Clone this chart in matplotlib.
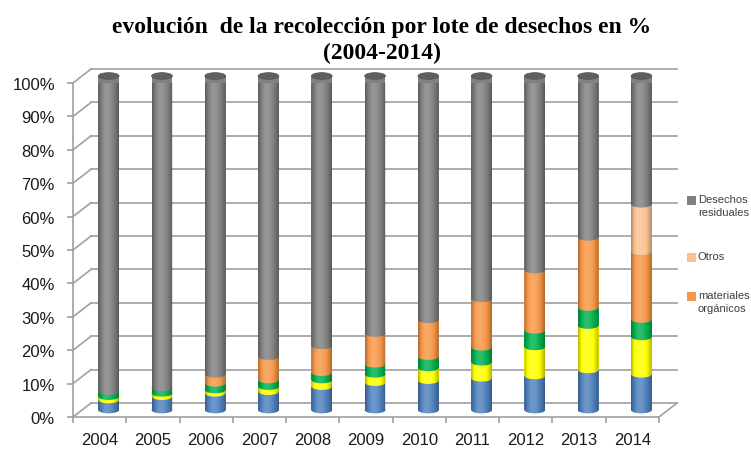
import numpy as np
import matplotlib
matplotlib.use("Agg")
from matplotlib import pyplot as plt
from matplotlib.patches import Polygon, Ellipse

# data (% of total per year)
years = ["2004", "2005", "2006", "2007", "2008", "2009", "2010", "2011", "2012", "2013", "2014"]
serie_azul = [3.0, 4.0, 5.0, 5.5, 7.0, 8.2, 8.8, 9.5, 10.2, 12.0, 10.7]
serie_amarilla = [1.0, 1.0, 1.0, 1.5, 2.0, 2.5, 3.8, 4.8, 8.7, 13.3, 11.2]
serie_verde = [1.5, 1.6, 2.0, 2.0, 2.2, 3.0, 3.4, 4.5, 5.0, 5.4, 5.2]
organicos = [0.0, 0.0, 2.7, 7.0, 8.0, 9.2, 11.0, 14.5, 18.0, 21.0, 20.3]
otros = [0.0, 0.0, 0.0, 0.0, 0.0, 0.0, 0.0, 0.0, 0.0, 0.0, 14.2]
residuales = [100 - a - b - c - d - e for a, b, c, d, e in
              zip(serie_azul, serie_amarilla, serie_verde, organicos, otros)]

series = [serie_azul, serie_amarilla, serie_verde, organicos, otros, residuales]
colors = ["#4f81bd", "#ffff00", "#00b050", "#f79646", "#fac090", "#808080"]

legend_names = ["Desechos\nresiduales", "Otros", "materiales\norgánicos"]
legend_colors = ["#808080", "#fac090", "#f79646"]

# 3d look: depth offset of back wall in data units
DX = 0.34
DY = 4.2
W = 0.39   # bar width
E = 1.0    # ellipse half height
grid_c = "#a0a0a0"

fig = plt.figure(figsize=(7.51, 4.52), dpi=100)
ax = fig.add_axes([73/751, 34/452, 586/751, 334/452])
ax.set_xlim(0, 11)
ax.set_ylim(0, 100)

# walls / gridlines
for v in range(0, 101, 10):
    ax.plot([0, DX], [v, v + DY], color=grid_c, lw=1.2, zorder=1, clip_on=False)
    ax.plot([DX, 11 + DX], [v + DY, v + DY], color=grid_c, lw=1.2, zorder=1, clip_on=False)
ax.plot([11, 11 + DX], [0, DY], color=grid_c, lw=1.2, zorder=1, clip_on=False)

# shading overlay for the cylinders
t = np.linspace(0, 1, 80)
b = np.where(t < 0.4, 1 - ((t - 0.4) / 0.4) ** 2, 1 - ((t - 0.4) / 0.6) ** 2)
shade = np.zeros((1, len(t), 4))
light = b > 0.7
shade[0, light, :3] = 1.0
shade[0, light, 3] = (b[light] - 0.7) * 0.6
shade[0, ~light, 3] = (0.7 - b[~light]) * 0.45

th_low = np.linspace(np.pi, 2 * np.pi, 40)
th_up = np.linspace(0, np.pi, 40)

for i in range(len(years)):
    cx = i + 0.5 + DX / 2
    base = DY / 2
    bottom = base
    top_total = base + sum(s[i] for s in series)
    for s, c in zip(series, colors):
        h = s[i]
        if h <= 0:
            continue
        ax.add_patch(plt.Rectangle((cx - W / 2, bottom), W, h, facecolor=c,
                                   edgecolor="none", zorder=3, clip_on=False))
        ax.add_patch(Ellipse((cx, bottom), W, 2 * E, facecolor=c,
                             edgecolor="none", zorder=3, clip_on=False))
        bottom += h
    # cylinder outline for clipping the shade
    pts = [(cx + W / 2 * np.cos(a), base + E * np.sin(a)) for a in th_low]
    pts += [(cx + W / 2 * np.cos(a), top_total + E * np.sin(a)) for a in th_up]
    clip = Polygon(pts, closed=True, transform=ax.transData, facecolor="none", edgecolor="none")
    ax.add_patch(clip)
    im = ax.imshow(shade, extent=[cx - W / 2, cx + W / 2, base - E, top_total + E],
                   aspect="auto", zorder=4, interpolation="bilinear")
    im.set_clip_path(clip)
    # top face
    ax.add_patch(Ellipse((cx, top_total), W, 2 * E, facecolor="#5f5f5f",
                         edgecolor="#555555", lw=0.5, zorder=5, clip_on=False))

ax.set_xlim(0, 11)
ax.set_ylim(0, 100)

# axes
for sp in ["top", "right"]:
    ax.spines[sp].set_visible(False)
ax.spines["left"].set_color(grid_c)
ax.spines["bottom"].set_color(grid_c)
ax.spines["left"].set_linewidth(1.2)
ax.spines["bottom"].set_linewidth(1.2)
ax.set_yticks(range(0, 101, 10))
ax.set_yticklabels([f"{v}%" for v in range(0, 101, 10)])
ax.tick_params(axis="y", length=4, color=grid_c, width=1.2, pad=9,
               labelsize=12, labelcolor="#1a1a1a")
ax.set_xticks(range(0, 12))
ax.set_xticklabels([])
ax.set_xticks([i + 0.5 for i in range(11)], minor=True)
ax.set_xticklabels(years, minor=True)
ax.tick_params(axis="x", which="major", length=4, color=grid_c, width=1.2)
ax.tick_params(axis="x", which="minor", length=0, pad=11, labelsize=12, labelcolor="#1a1a1a")
for lab in ax.get_yticklabels() + ax.get_xticklabels(minor=True):
    lab.set_family("Liberation Sans")

# title
fig.text(0.508, 1 - 28 / 452, "evolución  de la recolección por lote de desechos en %",
         ha="center", va="center", fontsize=17, fontweight="bold", family="Liberation Serif")
fig.text(0.508, 1 - 53 / 452, "(2004-2014)",
         ha="center", va="center", fontsize=17, fontweight="bold", family="Liberation Serif")

# legend
leg_y = [202, 259, 298]
for name, c, y in zip(legend_names, legend_colors, leg_y):
    fig.patches.append(plt.Rectangle((687 / 751, 1 - (y + 4) / 452), 9 / 751, 9 / 452,
                                     transform=fig.transFigure, facecolor=c, edgecolor="none"))
    fig.text(698 / 751, 1 - (y - 7) / 452, name, ha="left", va="top", fontsize=8,
             family="Liberation Sans", color="#404040", linespacing=1.4)

fig.savefig("out.png", dpi=100)
